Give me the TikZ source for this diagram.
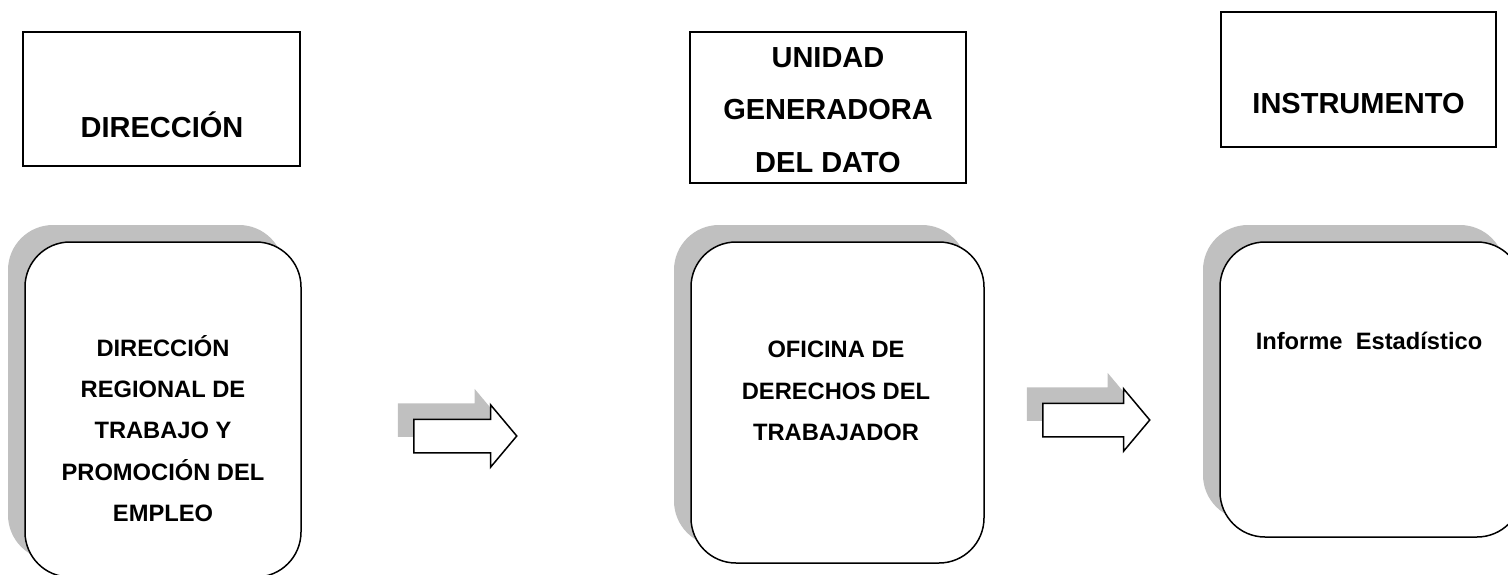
\documentclass[tikz,border=0pt]{standalone}
\usepackage{fontspec}
\setmainfont{Liberation Sans}
\usetikzlibrary{shapes.arrows,shadows}
\definecolor{sombra}{RGB}{192,192,192}

\begin{document}
\begin{tikzpicture}[
  x=1pt, y=-1pt,
  caja/.style={rectangle,draw,line width=1.5pt,inner sep=0pt},
  titulo/.style={font=\fontsize{29}{52.5}\selectfont\bfseries,align=center,inner sep=0pt},
  bloque/.style={rectangle,draw,line width=1.5pt,fill=white,rounded corners=45pt,inner sep=0pt,
    general shadow={fill=sombra,draw=none,shadow xshift=-17pt,shadow yshift=17pt}},
  texto/.style={font=\fontsize{23.7}{41.25}\selectfont\bfseries,align=center,inner sep=0pt},
  flecha/.style={single arrow,draw,line width=1.5pt,fill=white,inner xsep=0pt,inner ysep=16pt,
    single arrow head extend=14.5pt,single arrow tip angle=100,anchor=tail,
    general shadow={fill=sombra,draw=none,shadow xshift=-16pt,shadow yshift=16pt}}
]
  \useasboundingbox (0,0) rectangle (1508,574);

  % cabeceras
  \node[caja,minimum width=277pt,minimum height=134pt] (dir) at (161.5,99) {};
  \node[caja,minimum width=276pt,minimum height=151pt] (uni) at (828,107.5) {};
  \node[caja,minimum width=275pt,minimum height=135pt] (ins) at (1358.5,79.5) {};
  \node[titulo,anchor=base] (tdir) at (162,137) {DIRECCIÓN};
  \node[titulo] (tuni) at (828,110) {UNIDAD\\GENERADORA\\DEL DATO};
  \node[titulo,anchor=base] (tins) at (1358.5,113) {INSTRUMENTO};

  % bloques
  \node[bloque,minimum width=276pt,minimum height=335pt] (drt) at (163,409.5) {};
  \node[bloque,minimum width=293pt,minimum height=321pt] (odt) at (837.5,402.5) {};
  \node[bloque,minimum width=302pt,minimum height=295pt] (inf) at (1371,389.5) {};
  \node[texto] (tdrt) at (163,428.5)
    {DIRECCIÓN\\REGIONAL DE\\TRABAJO Y\\PROMOCIÓN DEL\\EMPLEO};
  \node[texto] (todt) at (836,391) {OFICINA DE\\DERECHOS DEL\\TRABAJADOR};
  \node[texto,anchor=base] (tinf) at (1369,349) {Informe~~Estadístico};

  % flechas
  \node[flecha,minimum height=103pt] (f1) at (413,436) {};
  \node[flecha,minimum height=107pt] (f2) at (1042,420) {};
\end{tikzpicture}
\end{document}
